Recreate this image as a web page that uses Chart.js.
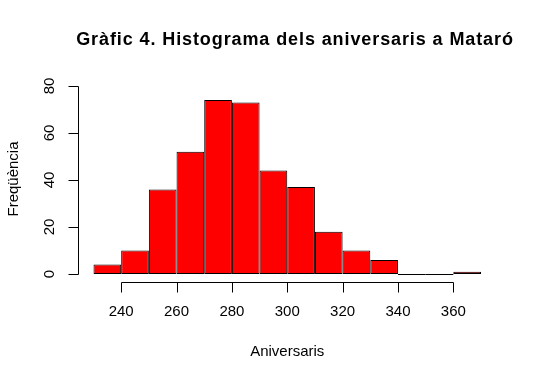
<!DOCTYPE html>
<html>
<head>
<meta charset="utf-8">
<script src="https://cdn.jsdelivr.net/npm/chart.js@4"></script>
<style>
html,body{margin:0;padding:0;background:#fff;}
canvas{display:block;}
</style>
</head>
<body>
<canvas id="c" width="537" height="380"></canvas>
<script>
// ---- data ----
const binStarts = [230, 240, 250, 260, 270, 280, 290, 300, 310, 320, 330, 340, 350, 360];
const binWidth = 10;
const counts = [4, 10, 36, 52, 74, 73, 44, 37, 18, 10, 6, 0, 0, 1];
const xTicks = [240, 260, 280, 300, 320, 340, 360];
const yTicks = [0, 20, 40, 60, 80];
const titleText = 'Gràfic 4. Histograma dels aniversaris a Mataró';
const xTitle = 'Aniversaris';
const yTitle = 'Freqüència';

const points = binStarts.map((s, i) => ({ x: s + binWidth / 2, y: counts[i] }));

const FONT = '"Liberation Sans", Arial, sans-serif';

const rAxes = {
  id: 'rAxes',
  beforeDraw(chart) {
    const ctx = chart.ctx;
    ctx.save();
    ctx.fillStyle = '#fff';
    ctx.fillRect(0, 0, chart.width, chart.height);
    ctx.restore();
  },
  afterDatasetsDraw(chart) {
    const ctx = chart.ctx;
    const xs = chart.scales.x, ys = chart.scales.y;
    const area = chart.chartArea;
    ctx.save();
    ctx.strokeStyle = '#000';
    ctx.lineWidth = 1;
    // zero-height bins drawn as flat lines
    const y0 = Math.round(ys.getPixelForValue(0)) + 0.5;
    binStarts.forEach((s, i) => {
      if (counts[i] === 0) {
        ctx.beginPath();
        ctx.moveTo(xs.getPixelForValue(s), y0);
        ctx.lineTo(xs.getPixelForValue(s + binWidth), y0);
        ctx.stroke();
      }
    });
    // x axis
    const ax = Math.round(area.bottom) + 0.5;
    ctx.beginPath();
    ctx.moveTo(Math.round(xs.getPixelForValue(xTicks[0])) + 0.5, ax);
    ctx.lineTo(Math.round(xs.getPixelForValue(xTicks[xTicks.length - 1])) + 0.5, ax);
    xTicks.forEach(t => {
      const px = Math.round(xs.getPixelForValue(t)) + 0.5;
      ctx.moveTo(px, ax);
      ctx.lineTo(px, ax + 10);
    });
    ctx.stroke();
    // y axis
    const ay = Math.round(area.left) + 0.5;
    ctx.beginPath();
    ctx.moveTo(ay, Math.round(ys.getPixelForValue(yTicks[0])) + 0.5);
    ctx.lineTo(ay, Math.round(ys.getPixelForValue(yTicks[yTicks.length - 1])) + 0.5);
    yTicks.forEach(t => {
      const py = Math.round(ys.getPixelForValue(t)) + 0.5;
      ctx.moveTo(ay, py);
      ctx.lineTo(ay - 10, py);
    });
    ctx.stroke();
    // tick labels
    ctx.fillStyle = '#000';
    ctx.font = '15px ' + FONT;
    ctx.textAlign = 'center';
    ctx.textBaseline = 'alphabetic';
    xTicks.forEach(t => {
      ctx.fillText(String(t), xs.getPixelForValue(t), 315.5);
    });
    yTicks.forEach(t => {
      ctx.save();
      ctx.translate(54, ys.getPixelForValue(t));
      ctx.rotate(-Math.PI / 2);
      ctx.fillText(String(t), 0, 0);
      ctx.restore();
    });
    // axis titles
    const cx = (area.left + area.right) / 2;
    const cy = (area.top + area.bottom) / 2;
    ctx.fillText(xTitle, cx, 355.5);
    ctx.save();
    ctx.translate(18, cy - 1);
    ctx.rotate(-Math.PI / 2);
    ctx.fillText(yTitle, 0, 0);
    ctx.restore();
    // main title
    ctx.font = 'bold 18px ' + FONT;
    if ('letterSpacing' in ctx) ctx.letterSpacing = '0.9px';
    ctx.fillText(titleText, 295, 45);
    ctx.restore();
  }
};

new Chart(document.getElementById('c'), {
  type: 'bar',
  data: {
    datasets: [{
      data: points,
      backgroundColor: '#FF0000',
      borderColor: '#000000',
      borderWidth: 1,
      borderSkipped: false,
      barPercentage: 1,
      categoryPercentage: 1,
      inflateAmount: 0
    }]
  },
  options: {
    responsive: false,
    animation: false,
    devicePixelRatio: 1,
    layout: { padding: { left: 78, right: 40.5, top: 78.5, bottom: 98.5 } },
    plugins: { legend: { display: false }, tooltip: { enabled: false }, title: { display: false } },
    scales: {
      x: { type: 'linear', min: 224.4, max: 375.6, offset: false, display: false },
      y: { type: 'linear', min: -3.2, max: 83.2, display: false }
    }
  },
  plugins: [rAxes]
});
</script>
</body>
</html>
